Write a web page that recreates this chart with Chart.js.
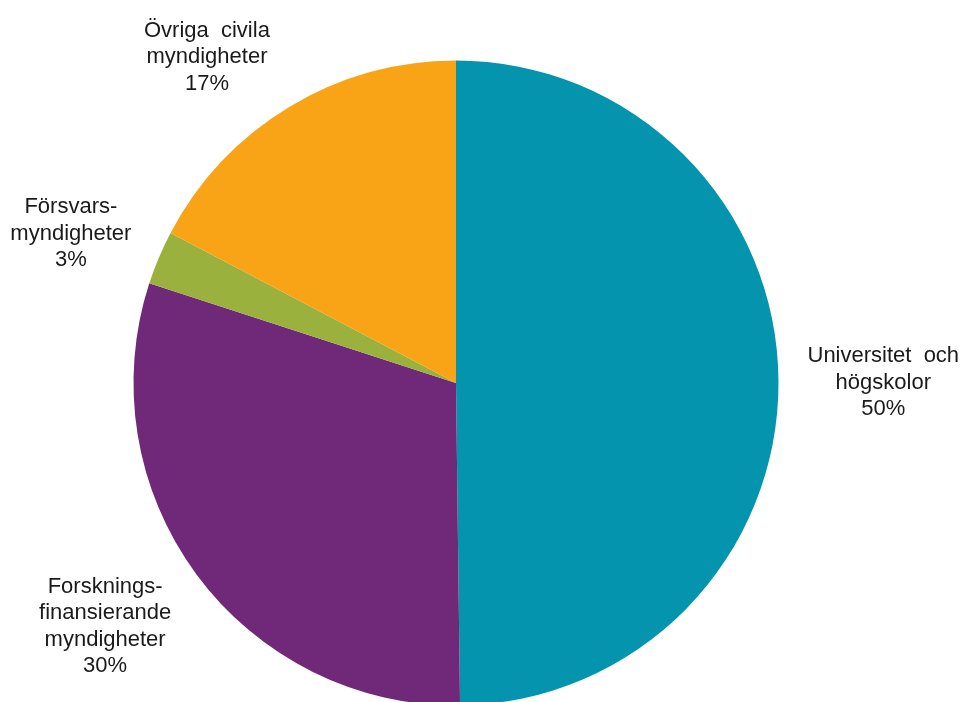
<!DOCTYPE html>
<html>
<head>
<meta charset="utf-8">
<script src="https://cdn.jsdelivr.net/npm/chart.js@4/dist/chart.umd.min.js"></script>
<style>
  html, body { margin: 0; padding: 0; background: #fff; overflow: hidden; }
  #wrap { width: 960px; height: 710px; position: relative; }
</style>
</head>
<body>
<div id="wrap"><canvas id="myChart"></canvas></div>
<script>
// labels split in lines the way they are printed
var categories = [
  ['Universitet  och', 'högskolor'],
  ['Forsknings-', 'finansierande', 'myndigheter'],
  ['Försvars-', 'myndigheter'],
  ['Övriga  civila', 'myndigheter']
];
var shares = [49.8, 30.2, 2.7, 17.3];
var colors = ['#0494AE', '#702878', '#9BB13D', '#F8A416'];

var LINE_H = 26.5;
var CAP_H = 16;

const outsideLabels = {
  id: 'outsideLabels',
  afterDatasetsDraw(chart) {
    const ctx = chart.ctx;
    const meta = chart.getDatasetMeta(0);
    const total = shares.reduce((a, b) => a + b, 0);
    ctx.save();
    ctx.font = '22px "Liberation Sans", Arial, sans-serif';
    ctx.fillStyle = '#1a1a1a';
    ctx.textAlign = 'center';
    ctx.textBaseline = 'alphabetic';
    meta.data.forEach((arc, i) => {
      const p = arc.getProps(['x', 'y', 'startAngle', 'endAngle', 'outerRadius'], true);
      const mid = (p.startAngle + p.endAngle) / 2;
      const dx = Math.cos(mid), dy = Math.sin(mid);
      const lines = categories[i].concat([Math.round(shares[i] / total * 100) + '%']);
      const w = Math.max.apply(null, lines.map(l => ctx.measureText(l).width));
      const h = (lines.length - 1) * LINE_H + CAP_H;
      const R = p.outerRadius + 20;
      const cx = p.x + dx * R + Math.sign(dx) * (w / 2 + 9);
      const cy = p.y + dy * R + h / 2 * Math.max(-1, Math.min(1, 1.35 * dy));
      const first = cy - h / 2 + CAP_H;
      lines.forEach((l, k) => ctx.fillText(l, cx, first + k * LINE_H));
    });
    ctx.restore();
  }
};

const data = {
  labels: categories.map(c => c.join(' ')),
  datasets: [{
    data: shares,
    backgroundColor: colors,
    borderWidth: 0,
    hoverOffset: 0
  }]
};

const config = {
  type: 'pie',
  data: data,
  options: {
    responsive: true,
    maintainAspectRatio: false,
    animation: false,
    layout: { padding: { left: 133.5, right: 181.5, top: 60.5, bottom: 4.5 } },
    plugins: {
      legend: { display: false },
      tooltip: { enabled: false }
    }
  },
  plugins: [outsideLabels]
};

const myChart = new Chart(document.getElementById('myChart'), config);
</script>
</body>
</html>
